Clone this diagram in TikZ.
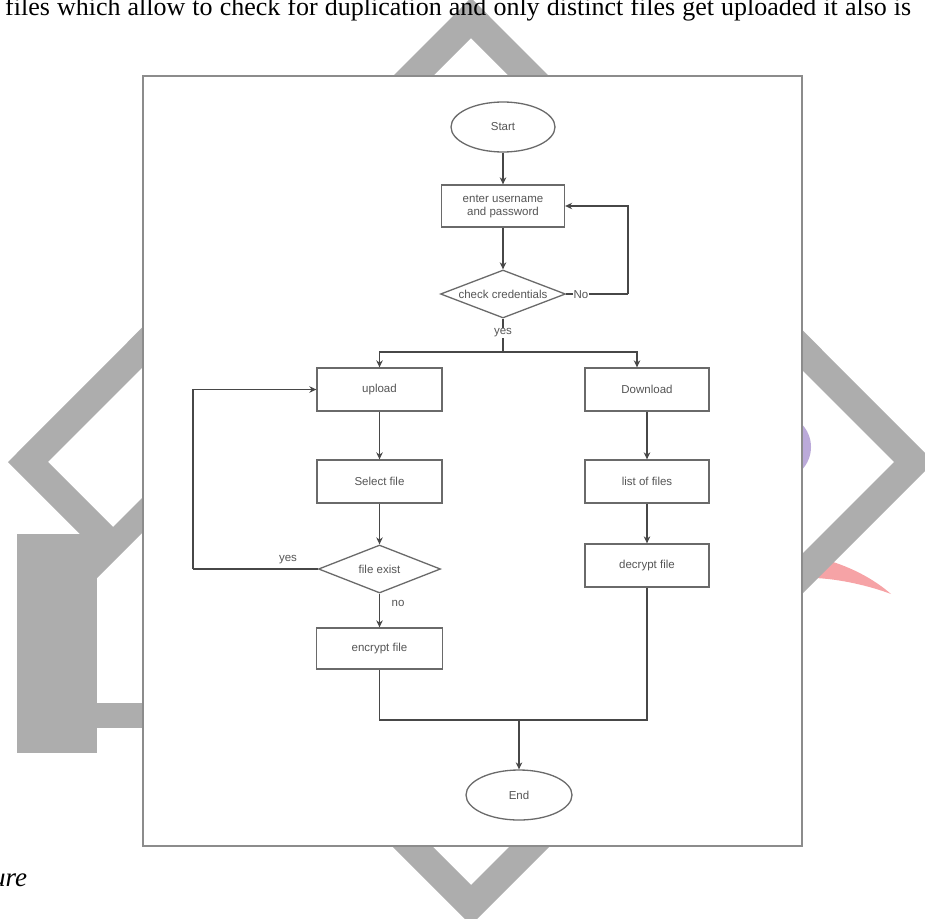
\documentclass[tikz,border=0pt]{standalone}
\usepackage{fontspec}
\setmainfont{Liberation Serif}
\newfontfamily\flowfont{Liberation Sans}
\usetikzlibrary{shapes.geometric,arrows.meta,calc}
\definecolor{wm}{HTML}{ADADAD}
\definecolor{ln}{HTML}{474747}
\definecolor{bx}{HTML}{6A6A6A}
\definecolor{tx}{HTML}{555555}
\definecolor{framec}{HTML}{8C8C8C}
\definecolor{lav}{HTML}{BBAAD9}
\definecolor{pinkc}{HTML}{F6A3A6}
\begin{document}
\begin{tikzpicture}[x=1pt,y=-1pt,
  ffont/.style={font=\flowfont\fontsize{11.5}{13}\selectfont},
  box/.style={ffont, draw=bx, line width=1.3pt, rectangle, minimum width=125pt, minimum height=43pt, inner sep=0pt, text=tx, align=center},
  term/.style={ffont, draw=bx, line width=1.3pt, ellipse, minimum width=104pt, minimum height=50pt, inner sep=0pt, text=tx},
  dec/.style={ffont, draw=bx, line width=1.3pt, diamond, aspect=2.6, minimum width=125pt, minimum height=48pt, inner sep=0pt, text=tx},
  flow/.style={draw=ln, line width=1.2pt},
  arr/.style={flow, -{Stealth[length=7pt,width=6.5pt]}},
  lbl/.style={ffont, text=tx, inner sep=1pt}
]
\useasboundingbox (0,0) rectangle (925,918);
% watermark
\fill[pinkc] (815,557) .. controls (850,565) and (875,580) .. (891,594) .. controls (870,586) and (840,579) .. (815,578) -- cycle;
\fill[lav] (778,447) circle[radius=33pt];
\draw[wm, line width=28.3pt, line join=miter] (250,684) -- (471,905) -- (914,462) -- (471,18) -- (28,462) -- (105,539);
\fill[wm] (17,534) rectangle (97,753);
\fill[wm] (97,703) rectangle (150,728);
\fill[wm] (97,578) -- (160,515) -- (160,480) -- (97,543) -- cycle;
% frame
\draw[framec, fill=white, line width=2pt] (143,76) rectangle (802,846);
% surrounding text
\node[anchor=base west, inner sep=0pt, font=\fontsize{26}{30}\selectfont] (toptext) at (5,16) {\makebox[906pt][s]{files which allow to check for duplication and only distinct files get uploaded it also is}};
\node[anchor=base west, inner sep=0pt, font=\itshape\fontsize{27}{30}\selectfont] (caption) at (-8,886) {ure};
% nodes
\node[term] (start) at (503,127) {Start};
\node[box, minimum width=123pt, minimum height=42pt] (login) at (503,206) {enter username\\and password};
\node[dec] (check) at (503,294) {check credentials};
\coordinate (split) at (503,352);
\coordinate (noturn) at (628,294);
\node[box] (upload) at (379.5,389.5) {upload};
\node[box, minimum width=124pt] (download) at (647,389.5) {Download};
\node[box] (select) at (379.5,481.5) {Select file};
\node[box, minimum width=124pt] (list) at (647,481.5) {list of files};
\node[dec, minimum width=122pt] (exist) at (379.5,569) {file exist};
\node[box, minimum width=124pt] (decrypt) at (647,565.5) {decrypt file};
\node[box, minimum width=126pt, minimum height=41pt] (encrypt) at (379.5,648.5) {encrypt file};
\coordinate (yesturn) at (193,569);
\coordinate (merge) at (519,720);
\node[term, minimum width=106pt] (end) at (519,795) {End};
% connectors
\draw[arr] (start) -- (login);
\draw[arr] (login) -- (check);
\draw[flow] (check.south) -- (split);
\draw[arr] (split) -| (upload.north);
\draw[arr] (split) -| ([xshift=-10pt]download.north);
\node[lbl, fill=white] (yeslbl) at (503,333) {yes};
\draw[flow] (check.east) -- (noturn);
\draw[arr] (noturn) |- (login.east);
\node[lbl, fill=white] (nolbl) at (581,295) {No};
\draw[arr] (upload) -- (select);
\draw[arr] (select) -- (exist);
\draw[arr] (exist) -- (encrypt);
\node[lbl] (nolbl2) at (398,603) {no};
\draw[flow] (exist.west) -- (yesturn);
\draw[arr] (yesturn) |- (upload.west);
\node[lbl] (yeslbl2) at (288,560) {yes};
\draw[arr] (download) -- (list);
\draw[arr] (list) -- (decrypt);
\draw[flow] (encrypt.south) |- (merge);
\draw[flow] (decrypt.south) |- (merge);
\draw[arr] (merge) -- (end.north);
\end{tikzpicture}
\end{document}
